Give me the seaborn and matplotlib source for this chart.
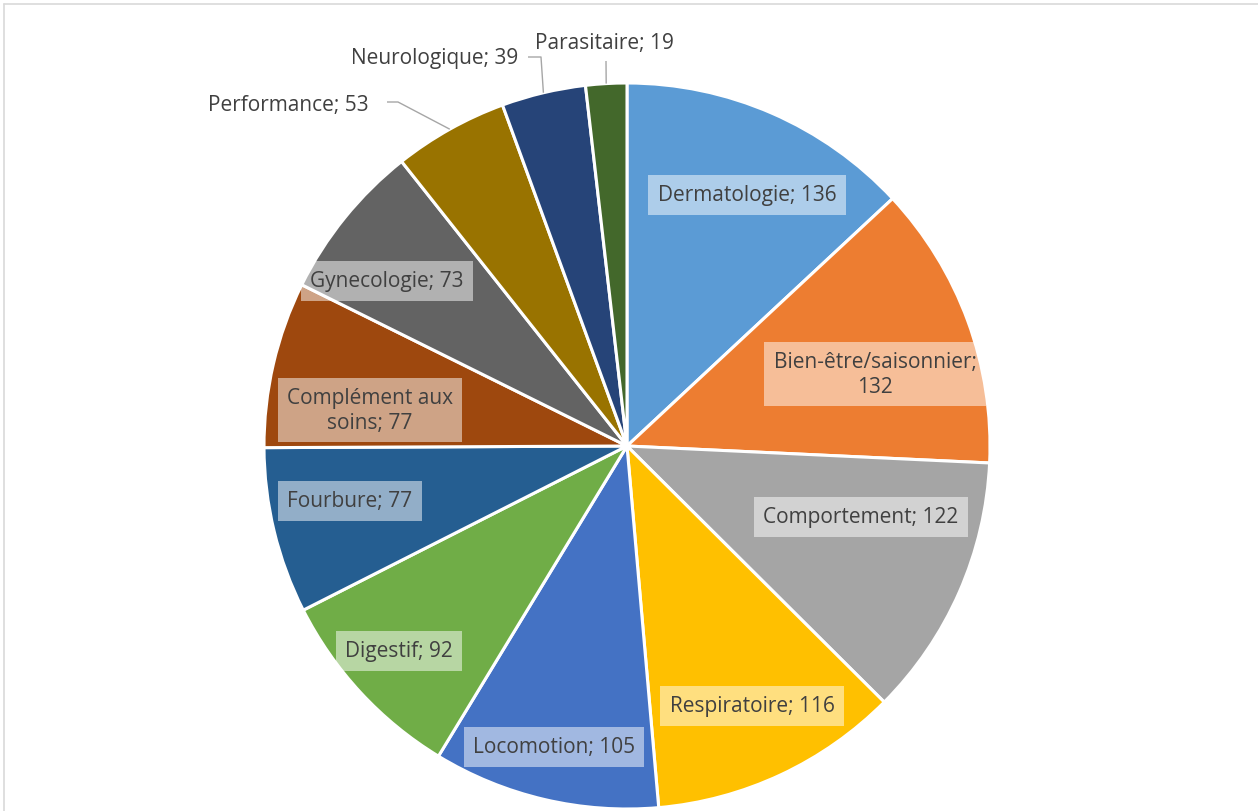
import matplotlib
matplotlib.use("Agg")
import matplotlib.pyplot as plt
import seaborn as sns
import numpy as np
from matplotlib.lines import Line2D

# ---- data ----
categories = ["Dermatologie", "Bien-être/saisonnier", "Comportement", "Respiratoire",
              "Locomotion", "Digestif", "Fourbure", "Complément aux soins",
              "Gynecologie", "Performance", "Neurologique", "Parasitaire"]
values = [136, 132, 122, 116, 105, 92, 77, 77, 73, 53, 39, 19]
label_texts = ["Dermatologie; 136", "Bien-être/saisonnier;\n132", "Comportement; 122",
               "Respiratoire; 116", "Locomotion; 105", "Digestif; 92", "Fourbure; 77",
               "Complément aux\nsoins; 77", "Gynecologie; 73", "Performance; 53",
               "Neurologique; 39", "Parasitaire; 19"]
colors = ["#5B9BD5", "#ED7D31", "#A5A5A5", "#FFC000", "#4472C4", "#70AD47",
          "#255E91", "#9E480E", "#636363", "#997300", "#264478", "#43682B"]

# ---- layout (pixels) ----
W, H = 1258, 812
CX, CY, R = 627, 447, 363
label_px = [(747, 196), (875, 375), (861, 518), (752, 707), (554, 748), (399, 652),
            (350, 502), (370, 411), (387, 282), (288, 106), (435, 59), (604, 44)]
outside = [False] * 9 + [True] * 3
leader_px = {9: [(387, 103), (398, 103)], 10: [(528, 58), (541, 58)], 11: [(606, 62)]}


def px(x, y):
    return (x - CX) / R, (CY - y) / R


sns.set_theme(style="white")
plt.rcParams["font.family"] = ["Open Sans", "DejaVu Sans"]

fig = plt.figure(figsize=(W / 100, H / 100), dpi=100)
fig.patch.set_facecolor("white")
ax = fig.add_axes([0, 0, 1, 1])

palette = sns.color_palette(colors)
wedges, _ = ax.pie(values, colors=palette, startangle=90, counterclock=False,
                   radius=1.0, wedgeprops=dict(edgecolor="white", linewidth=2.2))

text_color = "#404040"
FS = 15
for i, (w, txt) in enumerate(zip(wedges, label_texts)):
    x, y = px(*label_px[i])
    if outside[i]:
        ax.text(x, y, txt, ha="center", va="center", fontsize=FS, color=text_color)
        mid = np.deg2rad((w.theta1 + w.theta2) / 2)
        pts = [px(*p) for p in leader_px[i]] + [(np.cos(mid), np.sin(mid))]
        xs, ys = zip(*pts)
        ax.plot(xs, ys, color="#A6A6A6", linewidth=1.0, solid_capstyle="butt")
    else:
        ax.text(x, y, txt, ha="center", va="center", fontsize=FS, color=text_color,
                linespacing=1.25,
                bbox=dict(boxstyle="square,pad=0.45", facecolor="white", alpha=0.5,
                          edgecolor="none"))

ax.set_xlim(-CX / R, (W - CX) / R)
ax.set_ylim(-(H - CY) / R, CY / R)
ax.set_aspect("auto")
ax.axis("off")

# chart-area frame (top and left visible)
fig.add_artist(Line2D([4 / W, 1], [1 - 5 / H, 1 - 5 / H], transform=fig.transFigure,
                      color="#D9D9D9", linewidth=1.2))
fig.add_artist(Line2D([4 / W, 4 / W], [0, 1 - 5 / H], transform=fig.transFigure,
                      color="#D9D9D9", linewidth=1.2))

fig.savefig("out.png", dpi=100, facecolor="white")
